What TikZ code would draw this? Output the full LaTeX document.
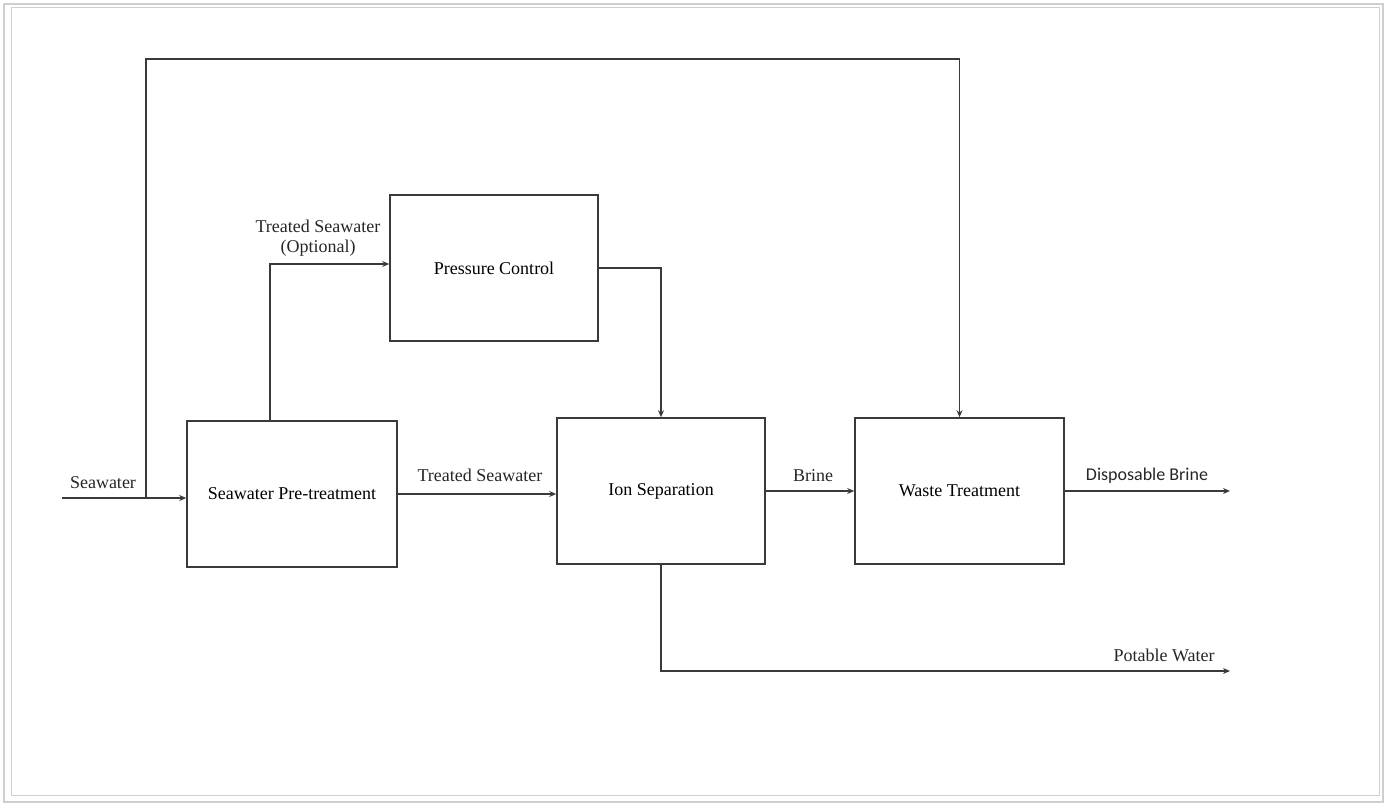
\documentclass[tikz,border=0pt]{standalone}
\usepackage{fontspec}
\setmainfont{Liberation Serif}
\newfontfamily\calib{Carlito}
\usetikzlibrary{arrows.meta}
\definecolor{ln}{HTML}{3A3A3A}
\definecolor{frm}{HTML}{CFCFCF}
\begin{document}
\begin{tikzpicture}[x=1pt,y=-1pt,
  blk/.style={draw=ln,line width=1.6pt,rectangle,minimum width=#1,minimum height=146pt,inner sep=0pt,font=\fontsize{18}{21}\selectfont},
  blk/.default=208pt,
  con/.style={draw=ln,line width=1.6pt},
  arr/.style={con,-{Stealth[length=7pt,width=6pt]}},
  lbl/.style={font=\fontsize{18}{21}\selectfont,inner sep=0pt,text=black!85,align=center}]
\useasboundingbox (0,0) rectangle (1385,804);
\draw[frm,line width=1.5pt] (4,4) rectangle (1383,802);
\draw[frm,line width=1pt] (11,7) rectangle (1379,795);
% boxes
\node[blk=210pt] (pre) at (292,494) {Seawater Pre-treatment};
\node[blk] (pc) at (494,268) {Pressure Control};
\node[blk] (ion) at (661,491) {Ion Separation};
\node[blk=209pt] (waste) at (959.5,491) {Waste Treatment};
% coordinates
\coordinate (sw) at (62,498);
\coordinate (j1) at (146,498);
\coordinate (tl) at (146,59);
\coordinate (b1) at (270,421);
\coordinate (db) at (1230,491);
\coordinate (pw) at (1230,671);
% connectors
\draw[arr] (sw) -- (sw -| pre.west);
\draw[arr] (j1) -- (tl) -| (waste.north);
\draw[arr] (b1) |- ([yshift=4pt]pc.west);
\draw[arr] (pc.east) -| (ion.north);
\draw[arr] (pre.east) -- (pre.east -| ion.west);
\draw[arr] (ion.east) -- (waste.west);
\draw[arr] (waste.east) -- (db);
\draw[arr] (ion.south) |- (pw);
% labels
\node[lbl] (lsw) at (103,483) {Seawater};
\node[lbl] (lts1) at (318,238) {Treated Seawater\\[-1pt](Optional)};
\node[lbl] (lts2) at (480,475) {Treated Seawater};
\node[lbl] (lbr) at (813,476) {Brine};
\node[lbl,font=\calib\fontsize{18}{21}\selectfont] (ldb) at (1147,476) {Disposable Brine};
\node[lbl] (lpw) at (1164,655) {Potable Water};
\end{tikzpicture}
\end{document}
